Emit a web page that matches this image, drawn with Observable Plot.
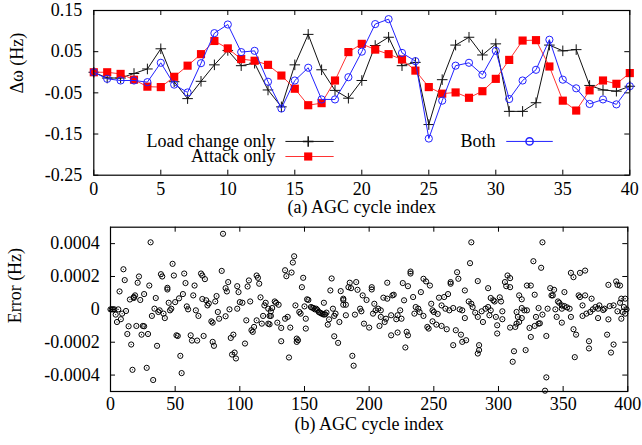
<!DOCTYPE html>
<html><head><meta charset="utf-8">
<script src="https://cdn.jsdelivr.net/npm/d3@7"></script>
<script src="https://cdn.jsdelivr.net/npm/@observablehq/plot@0.6"></script>
<style>
body{margin:0;background:#fff;}
#wrap{position:relative;width:642px;height:445px;background:#fff;}
#wrap svg{position:absolute;left:0;}
</style></head><body><div id="wrap"></div>
<script>
// ---------- Data: top panel ----------
const cycleIndex = [0,1,2,3,4,5,6,7,8,9,10,11,12,13,14,15,16,17,18,19,20,21,22,23,24,25,26,27,28,29,30,31,32,33,34,35,36,37,38,39,40];
const loadChangeOnly = [0,-0.014,-0.014,-0.003,0.008,0.057,-0.023,-0.064,-0.022,0.018,0.053,0.016,0.022,-0.043,-0.084,0.018,0.092,0.006,-0.044,-0.063,-0.02,0.065,0.085,0.016,0.024,-0.127,-0.018,0.066,0.085,0.042,0.069,-0.095,-0.095,-0.074,0.066,0.052,0.055,-0.032,-0.043,-0.046,-0.034];
const attackOnly = [0,0,-0.004,-0.018,-0.035,-0.036,-0.011,0.016,0.044,0.076,0.058,0.032,0.028,0.018,-0.008,-0.04,-0.08,-0.075,-0.02,0.049,0.069,0.055,0.044,0.031,0.004,-0.036,-0.052,-0.049,-0.062,-0.046,-0.016,0.03,0.077,0.078,0.014,-0.069,-0.093,-0.044,-0.02,-0.028,-0.002];
const both = [0,-0.016,-0.02,-0.02,-0.024,0.023,-0.03,-0.049,0.022,0.095,0.116,0.049,0.052,-0.023,-0.088,-0.02,0.011,-0.066,-0.066,-0.012,0.05,0.117,0.129,0.047,0.027,-0.161,-0.069,0.016,0.023,-0.006,0.052,-0.065,-0.02,0.006,0.079,-0.018,-0.039,-0.077,-0.066,-0.078,-0.034];
const topXTicks = [0,5,10,15,20,25,30,35,40];
const topYTicks = [0.15,0.05,-0.05,-0.15,-0.25];

// ---------- Data: bottom panel (error, in units of 1e-4 Hz) ----------
const errIndex = [
0,1,2,3,4,5,6,7,8,9,10,11,12,13,14,15,16,17,18,18,19,20,21,22,23,24,25,26,26,28,29,30,31,32,33,34,35,36,37,38,39,40,41,42,44,44,45,46,47,48,49,50,51,52,53,54,55,56,57,58,59,60,62,63,64,65,66,67,68,70,71,71,72,73,74,75,76,78,79,79,80,81,82,83,84,86,87,89,89,90,91,92,93,94,95,96,97,98,98,99,100,
102,104,105,106,107,108,109,110,111,113,113,114,115,116,117,118,119,120,122,122,123,123,124,124,125,127,128,129,130,132,132,135,135,136,137,138,139,140,141,142,143,144,144,145,146,147,148,149,150,151,151,152,153,155,156,157,158,159,160,161,162,163,164,165,165,166,167,168,169,170,171,172,173,173,174,176,177,178,180,180,180,182,182,184,185,186,187,188,189,190,191,193,194,195,196,198,200,202,202,203,
204,205,207,208,209,209,211,212,213,214,214,217,217,218,219,221,222,222,224,225,226,227,228,229,230,230,232,232,234,235,236,238,239,240,242,242,244,245,246,247,248,249,249,250,252,253,254,256,256,258,259,260,261,262,263,263,265,265,267,268,269,270,271,272,272,274,274,275,277,278,279,279,280,282,284,284,284,285,285,287,288,290,292,292,293,294,294,296,297,298,299,299,301,302,303,303,305,306,307,309,309,309,
311,312,313,314,314,315,316,316,318,318,318,320,321,322,322,324,325,325,327,328,328,329,331,331,332,333,334,334,336,337,337,338,340,341,342,343,344,345,346,347,349,349,349,351,351,353,355,356,356,358,358,359,360,362,363,363,365,365,367,367,368,370,370,371,372,373,375,377,377,378,381,382,384,385,385,386,387,389,389,391,392,392,394,394,395,395,396,397,398,398,399];
const errValueE4 = [
0,0,0,0,-0.32,-0.77,0,1.09,-0.6,-0.26,2.44,1.78,-0.1,-1.5,-1.03,0.6,-2.14,-3.68,0.69,0.75,0.85,-1.01,1.62,2.0,0.57,-1.54,-1.01,-1.03,0.93,-3.56,-1.5,1.45,4.08,-0.4,-4.3,0.04,0.69,-2.22,-0.16,-0.06,2.14,2.0,-0.26,-0.53,1.31,1.21,0.4,-0.06,0.04,2.77,2.06,0.44,-1.58,-1.62,0.67,-2.83,-3.88,0.93,2.18,1.6,0.18,0,-1.58,-1.9,0.85,1.45,-0.06,-1.9,-0.4,2.18,2.06,0.63,-1.62,1.84,0.55,0.24,0.36,-0.73,-0.81,-1.98,-2.22,0.48,0.81,-0.16,-0.57,2.34,4.6,1.29,-0.42,1.09,1.66,0,-1.74,-2.75,-1.54,-2.63,-2.99,0.04,1.41,1.05,0.44,
0.4,-2.08,-0.67,1.39,1.76,0.48,-1.27,-1.37,-1.07,2.06,-0.67,1.92,1.56,0.73,-0.87,-0.4,0.24,0.4,-0.87,0.04,-0.91,-0.4,-0.12,-0.4,0.08,0.48,0.4,-0.81,0.28,-1.13,-1.94,2.38,-0.57,2.02,-0.46,-2.93,-1.11,2.24,2.85,3.23,0.24,-1.98,-1.78,-1.88,-0.16,-0.26,1.35,1.92,0.18,-0.57,-1.17,0.61,0.57,0.14,0.1,0.08,0,0.04,-0.04,-0.16,-0.2,-0.25,-0.28,-0.32,0.4,-0.3,-0.2,-0.93,-0.61,1.15,1.88,0.04,-0.4,-1.64,-0.26,-2.04,-0.77,1.11,0.65,0.57,0.28,0.28,-0.36,1.35,1.62,1.29,-2.83,-3.43,-0.32,1.66,1.19,0.04,-0.12,0.85,-0.87,0.57,-1.11,1.35,1.21,-0.26,
0.34,-0.06,0.04,-1.01,-0.06,-0.46,0.71,-0.77,-0.57,0.65,1.62,-0.36,-1.58,0.85,0.89,-0.6,-0.36,-1.41,-0.06,-0.57,1.6,0.55,-2.32,-1.37,-1.58,1.41,2.3,2.18,0.75,-0.26,0.14,0.04,-0.16,1.05,-0.4,1.86,1.7,-1.07,-1.17,1.45,0.34,-0.73,-0.06,-0.16,-0.93,-0.28,0.71,-1.01,0.24,0.75,0.04,-1.21,0.93,-0.06,1.66,1.56,0.08,-2.18,-1.27,2.26,1.86,0,-1.54,-0.06,-1.98,1.15,-0.53,-1.88,0.48,2.81,4.08,0.34,0.14,-0.2,-0.46,-2.69,1.72,-2.48,-2.18,-0.12,-0.77,0.04,0.14,1.29,-0.36,0.69,-0.06,0.55,0.48,-0.46,-1.47,-0.97,0.73,0.48,-0.12,-0.6,1.66,1.41,2.06,1.9,1.35,-1.11,
-3.19,-2.55,-1.07,-0.16,-0.87,-0.46,-0.77,0.85,0.61,0.08,-0.53,-0.06,-2.48,-0.06,1.45,-1.13,-1.68,1.45,2.93,0.89,-1.01,-0.46,0.08,-0.87,-0.85,2.53,4.08,-0.32,-4.95,-4.14,-1.62,0.04,1.29,0.85,0.85,1.19,0,-0.46,0.48,0.4,0.24,0.04,-0.81,1.05,0.2,0.12,0.04,-0.46,2.22,1.96,-1.21,-2.91,-1.54,0.85,2.22,0.75,-0.4,0.24,2.36,0.85,-0.26,-1.94,-2.38,-0.16,0.65,0,0.14,0.04,-0.53,0.24,-0.04,0.04,-1.54,-0.61,1.49,0.2,-2.63,0.24,-2.14,1.7,1.49,-0.12,1.45,0.4,0.65,-0.57,-0.16,0.14,-0.26,0.65,0];
const bottomXTicks = [0,50,100,150,200,250,300,350,400];
const bottomYTicks = [0.0004,0.0002,0,-0.0002,-0.0004];

// ---------- Build rows ----------
const topRows = (vals) => cycleIndex.map((x, i) => ({x, y: vals[i]}));
const loadRows = topRows(loadChangeOnly);
const attackRows = topRows(attackOnly);
const bothRows = topRows(both);
const nErr = Math.min(errIndex.length, errValueE4.length);
const errRows = d3.range(nErr).map(i => ({x: errIndex[i], y: errValueE4[i] * 1e-4}));

const FONT = "'Liberation Serif','Times New Roman',serif";
const style = {fontFamily: FONT, fontSize: "18px", background: "transparent", color: "black", overflow: "visible"};

function frameTicks(xt, yt, plotW, plotH, len) {
  return [
    Plot.tickX(xt, {x: d => d, insetTop: plotH - len, stroke: "black", strokeWidth: 1}),
    Plot.tickX(xt, {x: d => d, insetBottom: plotH - len, stroke: "black", strokeWidth: 1}),
    Plot.tickY(yt, {y: d => d, insetRight: plotW - len, stroke: "black", strokeWidth: 1}),
    Plot.tickY(yt, {y: d => d, insetLeft: plotW - len, stroke: "black", strokeWidth: 1})
  ];
}

// ---------- Top panel ----------
const T = {w: 642, h: 222, mt: 10, mb: 47.3, ml: 93.3, mr: 12.7};
const tPW = T.w - T.ml - T.mr, tPH = T.h - T.mt - T.mb;
const RED = "#ff0000", BLUE = "#2222ff";
const topChart = Plot.plot({
  width: T.w, height: T.h,
  marginTop: T.mt, marginBottom: T.mb, marginLeft: T.ml, marginRight: T.mr,
  style,
  x: {domain: [0, 40]},
  y: {domain: [-0.25, 0.15]},
  marks: [
    ...frameTicks(topXTicks, topYTicks, tPW, tPH, 5),
    Plot.axisX(topXTicks, {tickSize: 0, tickPadding: 7.5, label: null, fontSize: 18}),
    Plot.axisY(topYTicks, {tickSize: 0, tickPadding: 11.6, label: null, fontSize: 18, tickFormat: d => d.toFixed(2)}),
    Plot.line(loadRows, {x: "x", y: "y", stroke: "#111", strokeWidth: 1}),
    Plot.dot(loadRows, {x: "x", y: "y", symbol: "plus", r: 3.5, stroke: "#111", strokeWidth: 1}),
    Plot.line(attackRows, {x: "x", y: "y", stroke: "#ff3333", strokeWidth: 1}),
    Plot.dot(attackRows, {x: "x", y: "y", symbol: "square", r: 4.6, fill: RED, stroke: "none"}),
    Plot.line(bothRows, {x: "x", y: "y", stroke: BLUE, strokeWidth: 1}),
    Plot.dot(bothRows, {x: "x", y: "y", symbol: "circle", r: 3.6, fill: "none", stroke: BLUE, strokeWidth: 1}),
    // legend
    Plot.text(["Load change only"], {x: 13.56, y: -0.168, text: d => d, textAnchor: "end", fontSize: 18}),
    Plot.link([0], {x1: 14.3, x2: 17.9, y1: -0.168, y2: -0.168, stroke: "#111", strokeWidth: 1}),
    Plot.dot([0], {x: 16.0, y: -0.168, symbol: "plus", r: 3.5, stroke: "#111"}),
    Plot.text(["Attack only"], {x: 13.56, y: -0.2046, text: d => d, textAnchor: "end", fontSize: 18}),
    Plot.link([0], {x1: 14.3, x2: 17.9, y1: -0.2046, y2: -0.2046, stroke: "#ff3333", strokeWidth: 1}),
    Plot.dot([0], {x: 16.0, y: -0.2046, symbol: "square", r: 4.6, fill: RED}),
    Plot.text(["Both"], {x: 29.98, y: -0.168, text: d => d, textAnchor: "end", fontSize: 18}),
    Plot.link([0], {x1: 30.78, x2: 34.25, y1: -0.168, y2: -0.168, stroke: BLUE, strokeWidth: 1}),
    Plot.dot([0], {x: 32.52, y: -0.168, symbol: "circle", r: 3.6, fill: "none", stroke: BLUE}),
    Plot.text(["(a) AGC cycle index"], {frameAnchor: "bottom", dy: 37.5, text: d => d, fontSize: 18}),
    Plot.text(["Δω (Hz)"], {frameAnchor: "left", rotate: -90, dx: -76.3, dy: 0.7, text: d => d, fontSize: 18}),
    Plot.frame({stroke: "black", strokeWidth: 1.2})
  ]
});

// ---------- Bottom panel ----------
const B = {w: 642, h: 223, mt: 4.7, mb: 54, ml: 110, mr: 14.7};
const bPW = B.w - B.ml - B.mr, bPH = B.h - B.mt - B.mb;
const bottomChart = Plot.plot({
  width: B.w, height: B.h,
  marginTop: B.mt, marginBottom: B.mb, marginLeft: B.ml, marginRight: B.mr,
  style,
  x: {domain: [0, 400]},
  y: {domain: [-0.0005, 0.0005]},
  marks: [
    ...frameTicks(bottomXTicks, bottomYTicks, bPW, bPH, 5),
    Plot.axisX(bottomXTicks, {tickSize: 0, tickPadding: 6.2, label: null, fontSize: 18}),
    Plot.axisY(bottomYTicks, {tickSize: 0, tickPadding: 10.7, label: null, fontSize: 18, tickFormat: d => d === 0 ? "0" : d.toFixed(4)}),
    Plot.dot(errRows, {x: "x", y: "y", r: 2.6, fill: "none", stroke: "#000", strokeWidth: 1}),
    Plot.dot(errRows, {x: "x", y: "y", r: 0.55, fill: "#000", stroke: "none"}),
    Plot.text(["(b) AGC cycle index"], {frameAnchor: "bottom", dy: 38.2, text: d => d, fontSize: 18}),
    Plot.text(["Error (Hz)"], {frameAnchor: "left", rotate: -90, dx: -95, dy: 14, text: d => d, fontSize: 18}),
    Plot.frame({stroke: "black", strokeWidth: 1.2})
  ]
});

const wrap = document.getElementById("wrap");
topChart.style.top = "0px";
bottomChart.style.top = "222px";
wrap.appendChild(topChart);
wrap.appendChild(bottomChart);
</script>
</body></html>
